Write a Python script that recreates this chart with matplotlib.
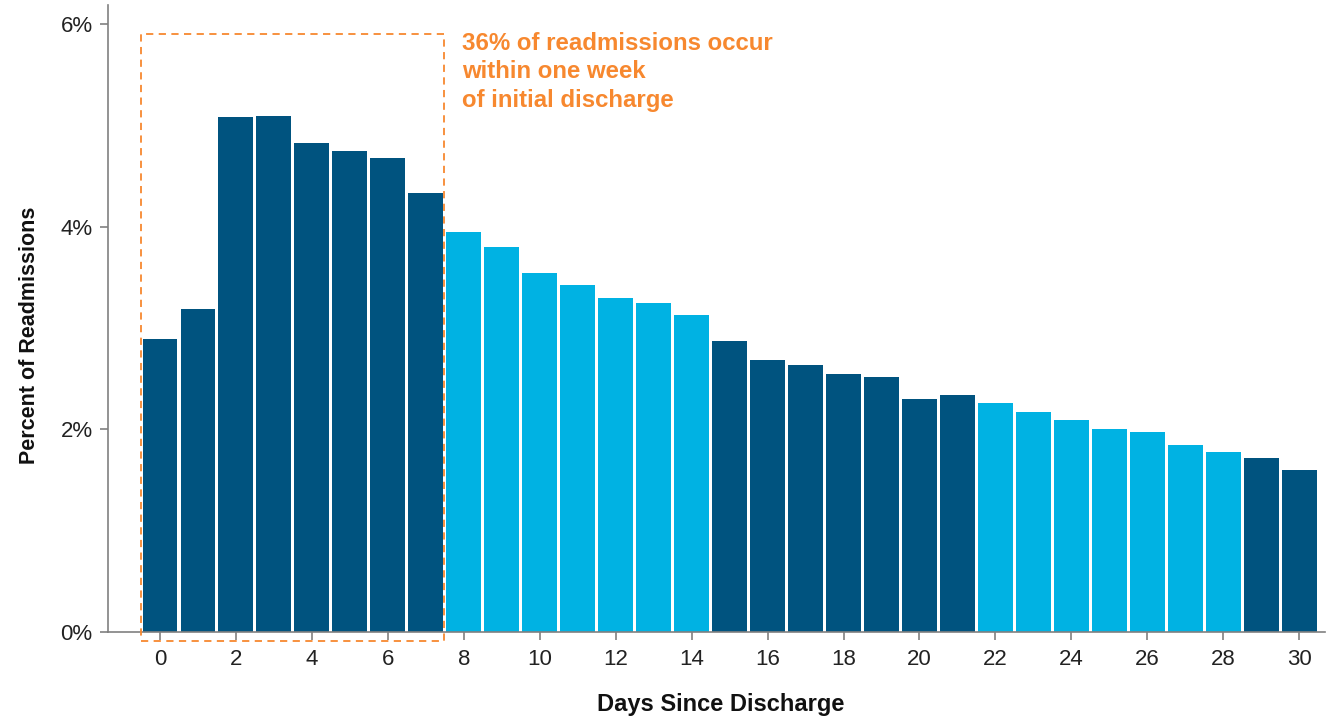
import matplotlib
matplotlib.use("Agg")
import matplotlib.pyplot as plt
from matplotlib.patches import Rectangle

days = list(range(31))
values = [2.89, 3.19, 5.08, 5.09, 4.83, 4.75, 4.68, 4.33,
          3.95, 3.80, 3.54, 3.43, 3.30, 3.25, 3.13,
          2.87, 2.69, 2.64, 2.55, 2.52, 2.30, 2.34,
          2.26, 2.17, 2.09, 2.00, 1.97, 1.85, 1.78,
          1.72, 1.60]
week_group = [0]*8 + [1]*7 + [0]*7 + [1]*7 + [0]*2
xticks = list(range(0, 31, 2))
yticks = [0, 2, 4, 6]
annotation = "36% of readmissions occur\nwithin one week\nof initial discharge"

DARK = "#00537F"
LIGHT = "#00B2E3"
ORANGE = "#F7882F"

plt.rcParams['font.family'] = ['Liberation Sans', 'DejaVu Sans']

fig = plt.figure(figsize=(13.28, 7.16), dpi=100)
ax = fig.add_axes([108/1328, 1-632/716, (1325-108)/1328, (632-5)/716])

colors = [DARK if g == 0 else LIGHT for g in week_group]
ax.bar(days, values, width=0.92, color=colors, zorder=2)

ax.set_xlim(-1.37, 30.68)
ax.set_ylim(0, 6.19)
ax.set_xticks(xticks)
ax.set_xticklabels([str(t) for t in xticks])
ax.set_yticks(yticks)
ax.set_yticklabels([f"{t}%" for t in yticks])

for s in ['top', 'right']:
    ax.spines[s].set_visible(False)
for s in ['left', 'bottom']:
    ax.spines[s].set_color('#808080')
    ax.spines[s].set_linewidth(1.2)
ax.tick_params(axis='both', colors='#808080', labelcolor='#222222', labelsize=16,
               length=6, width=1.2)
ax.tick_params(axis='x', pad=6)
ax.tick_params(axis='y', pad=5)

ax.set_ylabel("Percent of Readmissions", fontsize=15.5, fontweight='bold', color='#111111')
ax.yaxis.set_label_coords(-(108-30)/1217, (632-335)/627)
ax.set_xlabel("Days Since Discharge", fontsize=17, fontweight='bold', color='#111111')
ax.xaxis.set_label_coords((721-108)/1217, -(705-632)/627)
ax.xaxis.label.set_va('center')
ax.yaxis.label.set_va('center')

rect = Rectangle((-0.5, -0.09), 7.98, 5.99, fill=False, edgecolor=ORANGE,
                 linestyle=(0, (4, 3)), linewidth=1.3, clip_on=False, zorder=3)
ax.add_patch(rect)

ax.text(7.96, (632-32)/101.3, annotation, color=ORANGE, fontsize=17.3, fontweight='bold',
        va='top', ha='left', linespacing=1.3)

fig.savefig("out.png", dpi=100)
